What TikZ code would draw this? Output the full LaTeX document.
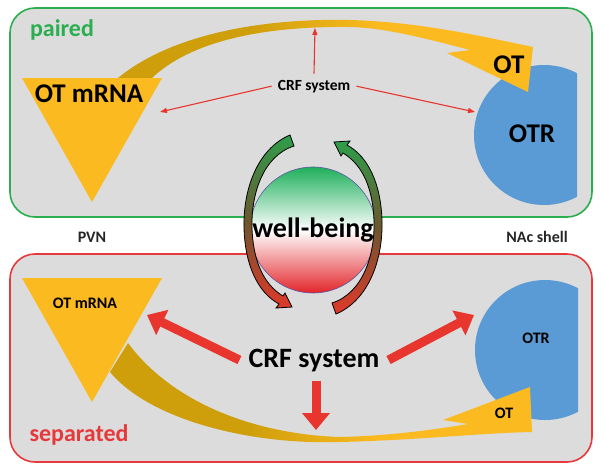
\documentclass[tikz,border=0pt]{standalone}
\usepackage{fontspec}
\setmainfont{Carlito}
\usetikzlibrary{arrows.meta}

\definecolor{panelgray}{HTML}{DCDCDC}
\definecolor{pairgreen}{HTML}{2BAE4F}
\definecolor{sepred}{HTML}{E5393B}
\definecolor{otyellow}{HTML}{FBBA1F}
\definecolor{otgold}{HTML}{CF9F0B}
\definecolor{otrblue}{HTML}{5B9BD5}
\definecolor{crfred}{HTML}{E8362F}
\definecolor{wbgreen}{HTML}{1EAF5A}
\definecolor{wbred}{HTML}{E2252A}
\definecolor{arrgreen}{HTML}{2E9E4A}
\definecolor{arrred}{HTML}{E0392A}

\newcommand{\topband}{(118,78) .. controls (170,35) and (260,18) .. (350,20) .. controls (420,22) and (480,36) .. (533,47) -- (528,92) -- (447,53) -- (470,50) .. controls (420,37) and (385,28) .. (350,27) .. controls (260,26) and (190,42) .. (152,78) -- cycle}
\newcommand{\lowband}{(110,372) .. controls (150,420) and (250,445) .. (340,442) .. controls (420,440) and (480,433) .. (532,432) -- (530,387) -- (443,420) -- (468,424) .. controls (420,432) and (380,436) .. (340,437) .. controls (250,434) and (170,400) .. (128,343) -- cycle}

\begin{document}
\begin{tikzpicture}[x=1pt,y=-1pt,
		panel/.style={fill=panelgray,rounded corners=25pt,line width=1.6pt},
		big label/.style={font=\bfseries\fontsize{27}{29}\selectfont,inner sep=0pt,anchor=base},
		small label/.style={font=\bfseries\fontsize{16}{18}\selectfont,inner sep=0pt,anchor=base},
		cycle arrow/.style={top color=arrgreen,bottom color=arrred,middle color=arrgreen!50!arrred!80!black,draw=black,line width=0.8pt},
		thin crf/.style={draw=crfred,line width=1.1pt,-{Triangle[length=7pt,width=5pt]}},
		thick crf/.style={draw=crfred,line width=9pt,-{Triangle[length=17pt,width=27pt]}}]
	\fill[white] (0,0) rectangle (604,471);
	\draw[panel,draw=pairgreen] (10,8) rectangle (592,217);
	\draw[panel,draw=sepred] (10,254) rectangle (592,462);
	
	\begin{scope}
		\clip (460,0) rectangle (577,240);
		\fill[otrblue] (544,135) circle (70pt);
	\end{scope}
	\begin{scope}
		\clip (460,240) rectangle (578,471);
		\fill[otrblue] (545,350) circle (70pt);
	\end{scope}
	
	\begin{scope}
		\clip \topband;
		\fill[otgold] (100,0) rectangle (250,120);
		\shade[left color=otgold,right color=otyellow] (250,0) rectangle (380,120);
		\fill[otyellow] (380,0) rectangle (560,120);
	\end{scope}
	\begin{scope}
		\clip \lowband;
		\fill[otgold] (100,330) rectangle (250,460);
		\shade[left color=otgold,right color=otyellow] (250,330) rectangle (380,460);
		\fill[otyellow] (380,330) rectangle (560,460);
	\end{scope}
	
	\fill[otyellow] (22,78) -- (162,78) -- (92,202) -- cycle;
	\fill[otyellow] (22,278) -- (162,278) -- (92,402) -- cycle;
	
	\node[big label] (mrnaTop) at (89,102) {OT mRNA};
	\node[big label] (otrTop) at (532,142) {OTR};
	\node[big label] (otTop) at (509,73) {OT};
	\node[small label] (mrnaLow) at (85,308) {OT mRNA};
	\node[small label] (otrLow) at (536,343) {OTR};
	\node[small label] (otLow) at (504,418) {OT};
	
	\node[font=\bfseries\fontsize{24}{26}\selectfont,text=pairgreen,inner sep=0pt,anchor=base] (paired) at (62,36) {paired};
	\node[font=\bfseries\fontsize{24}{26}\selectfont,text=sepred,inner sep=0pt,anchor=base] (separated) at (79,441) {separated};
	\node[small label,text=black!85] (pvn) at (92,242) {PVN};
	\node[small label,text=black!85] (nac) at (537,242) {NAc shell};
	
	\node[font=\bfseries\fontsize{15.5}{17}\selectfont,inner sep=6pt,anchor=base] (crfTop) at (314,90) {CRF system};
	\coordinate (mrnaHit) at (160,112);
	\coordinate (otrHit) at (475,112);
	\coordinate (bandHit) at (315,28);
	\draw[thin crf] (crfTop.west) -- (mrnaHit);
	\draw[thin crf] (crfTop.east) -- (otrHit);
	\draw[thin crf] (crfTop.north) -- (bandHit);
	
	\node[font=\bfseries\fontsize{28}{30}\selectfont,inner sep=9pt,anchor=base] (crfLow) at (314,367) {CRF system};
	\coordinate (mrnaPush) at (147,315);
	\coordinate (otrPush) at (474,315);
	\coordinate (bandPush) at (316,430);
	\draw[thick crf] (crfLow.west) -- (mrnaPush);
	\draw[thick crf] (crfLow.east) -- (otrPush);
	\draw[thick crf] (crfLow.south -| bandPush) -- (bandPush);
	
	\node[circle,minimum size=126pt,inner sep=0pt,top color=wbgreen,bottom color=wbred,middle color=white,draw=blue!30!gray,line width=0.6pt,font=\bfseries\fontsize{28}{30}\selectfont] (wb) at (313,230) {well-being};
	
	\shade[cycle arrow] (279,304) -- (276,308) -- (292,307) -- (285,293) -- (283,296) .. controls (263,284) and (253,260) .. (252,228) .. controls (251,194) and (263,156) .. (294,146) -- (290,135) .. controls (257,149) and (243,190) .. (244,228) .. controls (245,264) and (257,292) .. (279,304) -- cycle;
	\shade[cycle arrow] (347,145) -- (350,141) -- (334,142) -- (341,156) -- (343,153) .. controls (363,165) and (373,189) .. (374,221) .. controls (375,255) and (363,293) .. (332,303) -- (336,314) .. controls (369,300) and (383,259) .. (382,221) .. controls (381,185) and (369,157) .. (347,145) -- cycle;
\end{tikzpicture}
\end{document}
